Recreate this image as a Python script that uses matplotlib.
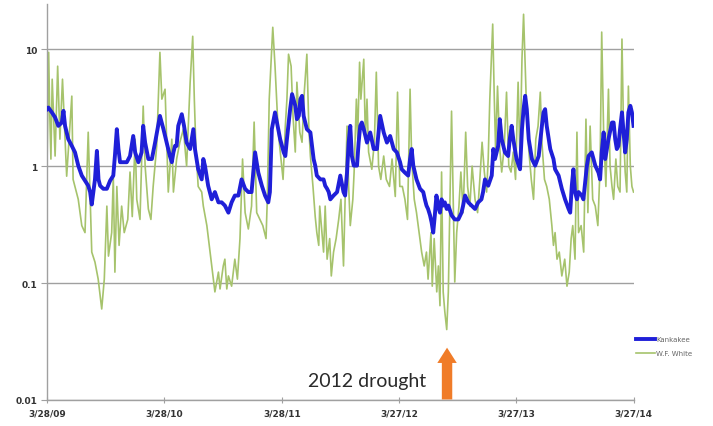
import numpy as np
import matplotlib
matplotlib.use("Agg")
import matplotlib.pyplot as plt

# daily flow series, days counted from 3/28/09
start = np.datetime64("2009-03-28")

kank_days = [0, 4, 15, 25, 35, 46, 51, 56, 66, 77, 87, 97, 108, 118, 128, 134, 139, 144, 149, 155,
             160, 165, 175, 186, 196, 206, 211, 217, 222, 227, 248, 258, 268, 274, 284, 294, 299, 305, 315, 326,
             336, 351, 362, 372, 382, 388, 393, 398, 403, 408, 419, 426, 434, 445, 455, 460, 470, 481, 486, 491,
             501, 512, 522, 533, 543, 553, 564, 574, 584, 595, 605, 616, 626, 636, 647, 657, 668, 678, 688, 693,
             699, 709, 719, 725, 736, 741, 746, 756, 762, 772, 777, 783, 788, 793, 798, 808, 819, 824, 829, 834,
             839, 850, 860, 865, 871, 876, 881, 891, 902, 912, 922, 927, 933, 938, 943, 948, 954, 964, 969, 974,
             979, 985, 995, 1005, 1016, 1026, 1036, 1047, 1057, 1067, 1078, 1088, 1098, 1103, 1113, 1123, 1129, 1134, 1139, 1149,
             1160, 1170, 1175, 1180, 1185, 1191, 1196, 1201, 1206, 1211, 1216, 1222, 1227, 1232, 1237, 1243, 1248, 1258, 1268, 1279,
             1289, 1294, 1300, 1310, 1320, 1331, 1341, 1351, 1356, 1362, 1372, 1383, 1388, 1393, 1403, 1408, 1414, 1424, 1434, 1439,
             1445, 1450, 1460, 1471, 1477, 1482, 1487, 1492, 1498, 1508, 1518, 1529, 1539, 1544, 1549, 1554, 1565, 1575, 1580, 1591,
             1601, 1611, 1622, 1627, 1632, 1637, 1642, 1648, 1653, 1663, 1668, 1679, 1684, 1694, 1705, 1715, 1720, 1725, 1731, 1736,
             1746, 1757, 1762, 1767, 1772, 1777, 1782, 1788, 1793, 1798, 1803, 1808, 1814, 1819, 1824]
kank_flow = [3.07, 3.17, 2.88, 2.61, 2.21, 2.36, 2.97, 2.21, 1.70, 1.49, 1.31, 1.01, 0.83, 0.75, 0.68, 0.60, 0.47, 0.60, 0.77, 1.35,
             0.77, 0.68, 0.64, 0.64, 0.75, 0.83, 1.22, 2.07, 1.40, 1.08, 1.08, 1.22, 1.81, 1.31, 1.08, 1.31, 2.21, 1.59, 1.15, 1.15,
             1.59, 2.69, 2.07, 1.59, 1.22, 1.08, 1.31, 1.49, 1.49, 2.21, 2.78, 2.21, 1.59, 1.40, 2.07, 1.40, 0.94, 0.77, 1.15, 1.01,
             0.68, 0.52, 0.60, 0.49, 0.49, 0.46, 0.40, 0.49, 0.56, 0.56, 0.77, 0.64, 0.60, 0.60, 1.31, 0.88, 0.68, 0.56, 0.49, 0.60,
             2.07, 2.88, 2.07, 1.70, 1.31, 1.22, 1.70, 3.07, 4.13, 3.28, 2.52, 2.69, 3.74, 3.99, 2.69, 2.07, 1.94, 1.49, 1.15, 1.01,
             0.83, 0.77, 0.77, 0.68, 0.64, 0.60, 0.52, 0.56, 0.60, 0.83, 0.60, 0.56, 0.88, 1.59, 2.21, 1.22, 1.01, 1.01, 1.59, 2.21,
             2.36, 2.07, 1.59, 1.94, 1.40, 1.40, 2.69, 1.94, 1.59, 1.81, 1.40, 1.31, 1.08, 0.94, 0.88, 0.83, 1.15, 1.40, 1.01, 0.77,
             0.64, 0.60, 0.52, 0.46, 0.43, 0.38, 0.33, 0.27, 0.38, 0.56, 0.46, 0.40, 0.52, 0.46, 0.49, 0.43, 0.46, 0.38, 0.35, 0.35,
             0.40, 0.46, 0.56, 0.49, 0.46, 0.43, 0.49, 0.52, 0.60, 0.77, 0.68, 0.83, 1.40, 1.15, 1.49, 2.52, 1.70, 1.31, 1.22, 1.70,
             2.21, 1.70, 1.15, 0.94, 2.07, 3.07, 3.99, 3.07, 1.70, 1.15, 1.01, 1.22, 2.21, 2.88, 3.07, 2.21, 1.40, 1.15, 0.94, 0.83,
             0.64, 0.52, 0.43, 0.40, 0.68, 0.94, 0.60, 0.52, 0.60, 0.56, 0.52, 1.01, 1.22, 1.31, 1.01, 0.88, 0.77, 1.31, 1.94, 1.15,
             1.70, 2.36, 2.36, 1.70, 1.40, 1.49, 2.07, 2.88, 1.94, 1.31, 1.70, 2.88, 3.28, 2.88, 2.21]

white_days = [0, 5, 8, 12, 16, 25, 33, 40, 48, 61, 77, 81, 97, 108, 118, 128, 139, 149, 159, 170,
              178, 186, 191, 201, 206, 211, 217, 224, 232, 240, 251, 258, 265, 274, 279, 289, 299, 305, 315, 323,
              330, 341, 351, 357, 367, 377, 388, 393, 403, 413, 424, 434, 445, 453, 458, 463, 470, 481, 486, 497,
              507, 517, 522, 533, 538, 548, 553, 559, 564, 574, 584, 592, 600, 608, 616, 626, 636, 644, 652, 662,
              671, 681, 685, 691, 702, 709, 719, 730, 734, 741, 746, 751, 759, 765, 772, 777, 786, 793, 800, 808,
              814, 819, 827, 834, 839, 845, 848, 855, 860, 865, 871, 879, 884, 891, 899, 907, 914, 922, 927, 933,
              938, 943, 951, 955, 962, 966, 972, 976, 985, 990, 995, 1000, 1010, 1018, 1024, 1031, 1038, 1047, 1055, 1065,
              1073, 1083, 1090, 1097, 1105, 1113, 1121, 1129, 1134, 1142, 1149, 1157, 1165, 1173, 1180, 1185, 1194, 1198, 1204, 1212,
              1217, 1222, 1227, 1232, 1237, 1243, 1248, 1253, 1258, 1263, 1268, 1274, 1281, 1287, 1294, 1302, 1308, 1315, 1322, 1331,
              1339, 1346, 1353, 1360, 1367, 1372, 1377, 1386, 1391, 1395, 1401, 1408, 1414, 1422, 1429, 1436, 1443, 1450, 1457, 1465,
              1471, 1477, 1482, 1487, 1492, 1498, 1506, 1513, 1520, 1527, 1534, 1539, 1547, 1554, 1562, 1570, 1575, 1580, 1586, 1593,
              1601, 1610, 1617, 1624, 1630, 1635, 1642, 1648, 1653, 1661, 1669, 1676, 1682, 1689, 1697, 1705, 1713, 1720, 1725, 1731,
              1738, 1746, 1751, 1757, 1762, 1769, 1775, 1782, 1788, 1793, 1798, 1803, 1808, 1814, 1819, 1824]
white_flow = [1.08, 9.4, 3.07, 1.15, 5.54, 1.22, 7.16, 1.70, 5.54, 0.82, 3.97, 0.77, 0.52, 0.31, 0.27, 1.95, 0.184, 0.151, 0.108, 0.06,
              0.108, 0.455, 0.17, 0.27, 0.82, 0.124, 0.67, 0.21, 0.455, 0.27, 0.35, 0.89, 0.37, 1.70, 0.52, 0.35, 3.26, 1.0, 0.43, 0.35,
              0.67, 1.48, 9.4, 3.74, 4.55, 0.60, 1.70, 0.60, 1.15, 1.60, 2.07, 1.0, 5.22, 12.9, 3.74, 1.40, 0.67, 0.60, 0.455, 0.31,
              0.184, 0.108, 0.084, 0.124, 0.089, 0.14, 0.16, 0.089, 0.115, 0.094, 0.16, 0.108, 0.24, 1.15, 0.40, 0.29, 0.455, 2.38, 0.40, 0.35,
              0.31, 0.24, 0.52, 3.74, 15.4, 7.16, 1.95, 1.0, 0.77, 2.20, 3.74, 9.06, 7.16, 2.67, 1.32, 5.22, 1.95, 1.60, 4.29, 9.06,
              2.20, 1.22, 0.67, 0.37, 0.27, 0.21, 0.455, 0.27, 0.184, 0.455, 0.16, 0.24, 0.115, 0.184, 0.24, 0.35, 0.52, 0.14, 0.52, 2.20,
              0.67, 0.31, 0.52, 0.89, 3.74, 1.70, 7.74, 3.74, 8.21, 1.70, 3.74, 1.32, 0.94, 1.60, 6.36, 1.0, 0.77, 1.22, 0.77, 0.67,
              1.15, 0.55, 4.29, 0.67, 0.67, 0.52, 0.35, 4.55, 1.15, 0.52, 0.40, 0.27, 0.184, 0.14, 0.184, 0.108, 0.27, 0.094, 0.24, 0.084,
              0.14, 0.064, 0.89, 0.084, 0.057, 0.040, 0.084, 0.52, 2.95, 0.52, 0.102, 0.27, 0.455, 0.89, 0.40, 1.95, 0.67, 0.455, 1.0, 0.52,
              0.40, 0.77, 1.60, 0.89, 0.60, 1.15, 3.74, 16.4, 3.74, 1.40, 4.83, 1.40, 0.89, 1.48, 4.29, 1.0, 0.89, 1.32, 0.77, 5.22,
              1.15, 8.21, 19.9, 7.16, 2.67, 1.40, 0.77, 0.52, 1.70, 2.20, 4.29, 1.60, 0.77, 0.67, 0.52, 0.31, 0.21, 0.27, 0.16, 0.184,
              0.115, 0.16, 0.094, 0.124, 0.24, 0.31, 0.16, 1.95, 0.27, 0.31, 0.184, 2.52, 0.40, 2.20, 0.52, 0.455, 0.31, 1.0, 14.0, 1.95,
              0.67, 4.55, 1.0, 0.67, 0.52, 1.15, 0.67, 0.60, 12.2, 1.95, 0.89, 0.60, 4.83, 1.0, 0.67, 0.60]

tick_days = [0, 365, 730, 1095, 1460, 1825]
tick_labels = ["3/28/09", "3/28/10", "3/28/11", "3/27/12", "3/27/13", "3/27/14"]
y_ticks = [0.01, 0.1, 1, 10]
y_labels = ["0.01", "0.1", "1", "10"]

kank_dates = start + np.array(kank_days)
white_dates = start + np.array(white_days)
tick_dates = start + np.array(tick_days)

fig = plt.figure(figsize=(7.13, 4.27), dpi=100)
ax = fig.add_axes([0.066, 0.061, 0.823, 0.927])

ax.plot(white_dates, white_flow, color="#a6c36c", lw=1.2, label="W.F. White", zorder=2)
ax.plot(kank_dates, kank_flow, color="#1f1fd8", lw=2.8, label="Kankakee", zorder=3,
        solid_joinstyle="round")

ax.set_yscale("log")
ax.set_ylim(0.01, 24.3)
ax.set_xlim(tick_dates[0], tick_dates[-1])

ax.set_yticks(y_ticks)
ax.set_yticklabels(y_labels)
ax.minorticks_off()
ax.set_xticks(tick_dates)
ax.set_xticklabels(tick_labels)

ax.grid(axis="y", color="#a0a0a0", lw=1.0, zorder=0)
for side in ["top", "right"]:
    ax.spines[side].set_visible(False)
for side in ["left", "bottom"]:
    ax.spines[side].set_color("#a0a0a0")
    ax.spines[side].set_linewidth(1.0)

ax.tick_params(axis="y", length=4, color="#a0a0a0", labelsize=6.5, pad=3, labelcolor="#333333")
ax.tick_params(axis="x", length=5, direction="inout", color="#a0a0a0", labelsize=6.5, pad=4,
               labelcolor="#333333")
for lab in ax.get_xticklabels() + ax.get_yticklabels():
    lab.set_fontweight("bold")

# drought marker
ax.text(start + 995, 0.0148, "2012 drought", fontsize=14, family="Lato", color="#2a2a2a",
        ha="center", va="center")
ax.annotate("", xy=(start + 1244, 0.028), xytext=(start + 1244, 0.0101),
            arrowprops=dict(arrowstyle="simple,head_width=1.4,head_length=1.1,tail_width=0.75",
                            fc="#f07c28", ec="none", mutation_scale=10, shrinkA=0, shrinkB=0),
            zorder=4)

leg = ax.legend(handles=ax.get_lines()[::-1], loc="center left", bbox_to_anchor=(0.883, 0.187),
                bbox_transform=fig.transFigure, frameon=False, fontsize=5, handlelength=2.8,
                handletextpad=0.1, labelspacing=1.2)
for t in leg.get_texts():
    t.set_color("#666666")

fig.savefig("out.png", dpi=100)
